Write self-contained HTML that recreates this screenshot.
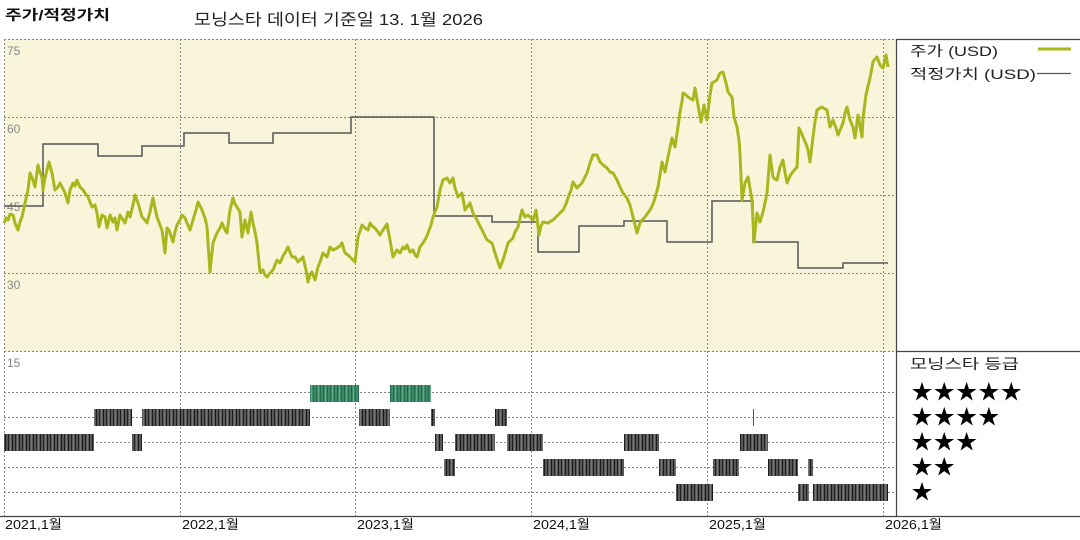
<!DOCTYPE html>
<html><head><meta charset="utf-8">
<style>
html,body{margin:0;padding:0;background:#fff;}
svg{display:block;}
text{font-family:"Liberation Sans","Noto Sans CJK KR","NanumGothic",sans-serif;}
</style></head>
<body>
<svg width="1080" height="540" viewBox="0 0 1080 540" xmlns="http://www.w3.org/2000/svg">
<defs>
<pattern id="gs" width="7" height="20" patternUnits="userSpaceOnUse">
<rect width="7" height="20" fill="#585858"/>
<rect x="1" width="1" height="20" fill="#222"/>
<rect x="3" width="1" height="20" fill="#777"/>
<rect x="5" width="1" height="20" fill="#1a1a1a"/>
</pattern>
<pattern id="gg" width="7" height="20" patternUnits="userSpaceOnUse">
<rect width="7" height="20" fill="#3f8a68"/>
<rect x="1" width="1" height="20" fill="#1f6a48"/>
<rect x="3" width="1" height="20" fill="#6aa88a"/>
<rect x="5" width="1" height="20" fill="#256e4e"/>
</pattern>
</defs>

<!-- titles -->
<text x="5" y="20" font-size="14" font-weight="bold" fill="#111" textLength="105" lengthAdjust="spacingAndGlyphs">주가/적정가치</text>
<text x="194" y="25" font-size="16" fill="#222" textLength="289" lengthAdjust="spacingAndGlyphs">모닝스타 데이터 기준일 13. 1월 2026</text>

<!-- top panel background -->
<rect x="4" y="39" width="892" height="313" fill="#f9f5da"/>

<!-- grid -->
<g stroke="#888" stroke-width="1" stroke-dasharray="2,2" fill="none">
<line x1="4" y1="39.5" x2="896" y2="39.5"/>
<line x1="4" y1="117.5" x2="896" y2="117.5"/>
<line x1="4" y1="195.5" x2="896" y2="195.5"/>
<line x1="4" y1="273.5" x2="896" y2="273.5"/>
<line x1="4" y1="351.5" x2="896" y2="351.5"/>
<line x1="4" y1="392.5" x2="896" y2="392.5"/>
<line x1="4" y1="417.5" x2="896" y2="417.5"/>
<line x1="4" y1="442.5" x2="896" y2="442.5"/>
<line x1="4" y1="467.5" x2="896" y2="467.5"/>
<line x1="4" y1="492.5" x2="896" y2="492.5"/>
<line x1="4.5" y1="39" x2="4.5" y2="516"/>
<line x1="180.5" y1="39" x2="180.5" y2="516"/>
<line x1="355.5" y1="39" x2="355.5" y2="516"/>
<line x1="531.5" y1="39" x2="531.5" y2="516"/>
<line x1="707.5" y1="39" x2="707.5" y2="516"/>
<line x1="883.5" y1="39" x2="883.5" y2="516"/>
</g>

<!-- frame lines -->
<g stroke="#444" stroke-width="1.2" fill="none">
<line x1="896" y1="39.5" x2="1080" y2="39.5"/>
<line x1="896" y1="351.5" x2="1080" y2="351.5"/>
<line x1="896.5" y1="39" x2="896.5" y2="516"/>
<line x1="0" y1="516.5" x2="1080" y2="516.5"/>
</g>

<!-- y labels -->
<g font-size="12" fill="#888">
<text x="7" y="55">75</text>
<text x="7" y="133">60</text>
<text x="7" y="211">45</text>
<text x="7" y="289">30</text>
<text x="7" y="367">15</text>
</g>

<!-- fair value step -->
<polyline fill="none" stroke="#555" stroke-width="1.5" points="4,206 43,206 43,144 98,144 98,156 142,156 142,146 184,146 184,133 229,133 229,143 273,143 273,133 351,133 351,117 434,117 434,216 492,216 492,222 538,222 538,252 579,252 579,226 624,226 624,221 667,221 667,242 712,242 712,201 753,201 753,242 798,242 798,268 843,268 843,263 888,263"/>

<!-- price -->
<polyline fill="none" stroke="#a9b71e" stroke-width="3" stroke-linejoin="round" points="4,223 6,218 8,220 10,214 13,215 15,223 18,230 20,222 22,217 25,203 28,190 30,173 33,180 35,187 38,165 40,172 42,177 43,190 45,178 47,170 49,162 52,173 55,190 58,187 60,183 62,187 65,193 68,203 70,190 73,183 75,186 77,180 80,187 83,190 85,193 88,197 92,207 95,205 97,213 99,227 102,215 105,217 107,228 110,215 113,222 115,218 117,230 120,215 123,220 125,223 128,212 130,217 133,205 135,195 138,203 140,210 142,217 145,220 147,223 150,212 153,198 155,208 157,217 160,225 162,230 165,253 167,228 169,230 173,242 175,232 177,225 180,220 182,215 185,218 187,223 190,230 193,220 196,210 198,202 202,210 205,218 207,227 210,272 213,243 215,238 217,233 220,228 222,223 225,230 227,233 230,210 233,198 235,204 237,207 240,212 242,237 245,220 248,233 251,212 253,223 255,232 257,243 260,272 263,270 265,275 267,277 270,273 273,270 275,265 277,260 280,263 283,256 285,253 288,247 290,252 292,257 295,257 298,262 300,260 303,257 306,270 308,282 310,275 312,272 315,280 318,267 320,262 323,253 327,257 330,247 333,250 337,248 340,246 342,243 345,253 348,255 350,257 355,262 358,237 362,225 365,228 368,230 370,223 373,227 375,228 378,232 380,235 383,230 387,224 390,240 393,257 397,250 400,253 403,247 405,249 407,245 410,252 413,250 415,255 417,257 420,247 423,243 426,238 428,233 431,225 433,217 437,207 440,190 443,180 447,178 450,183 453,178 455,188 458,197 462,193 465,210 468,206 470,203 473,213 477,220 480,226 482,230 485,236 487,240 492,243 495,253 498,262 500,268 503,260 506,250 508,243 513,238 515,232 518,227 522,210 525,217 528,215 530,217 533,220 536,210 539,235 541,226 543,222 548,223 551,221 553,220 558,215 563,210 566,204 568,198 571,190 573,182 577,188 582,183 587,173 590,163 593,155 597,155 600,162 603,165 607,168 610,172 613,173 617,180 620,187 623,193 627,198 630,205 633,217 637,233 640,223 642,220 645,217 650,210 653,204 655,198 658,187 660,175 662,162 665,172 668,157 672,138 675,147 678,127 680,112 682,102 683,93 686,95 688,97 693,100 695,88 698,105 701,122 704,105 707,120 710,95 712,83 717,80 720,73 723,72 726,83 728,92 732,97 734,117 737,127 739,140 740,153 742,200 745,183 748,177 752,200 754,242 757,213 760,222 763,212 765,203 767,193 770,155 773,177 775,179 777,180 780,167 783,160 785,172 787,183 790,176 792,173 797,167 799,128 801,132 803,137 806,144 808,150 810,162 813,137 815,122 817,110 820,108 822,107 825,109 827,110 830,127 833,120 836,128 838,135 843,123 845,113 847,107 850,120 853,127 855,138 858,115 862,137 863,118 866,95 868,86 870,78 873,62 875,59 877,57 880,65 883,68 886,55 888,67"/>

<!-- legend -->
<g font-size="14" fill="#222">
<text x="910" y="56" textLength="88" lengthAdjust="spacingAndGlyphs">주가 (USD)</text>
<text x="910" y="79" textLength="126" lengthAdjust="spacingAndGlyphs">적정가치 (USD)</text>
<text x="910" y="369" textLength="109" lengthAdjust="spacingAndGlyphs">모닝스타 등급</text>
</g>
<line x1="1038" y1="49" x2="1071" y2="49" stroke="#a9b71e" stroke-width="3"/>
<line x1="1037" y1="73.5" x2="1071" y2="73.5" stroke="#555" stroke-width="1.2"/>
<g font-size="21" fill="#000" font-family="DejaVu Sans, sans-serif" text-anchor="middle">
<text x="922" y="399">★</text><text x="944.3" y="399">★</text><text x="966.6" y="399">★</text><text x="988.9" y="399">★</text><text x="1011.2" y="399">★</text>
<text x="922" y="424">★</text><text x="944.3" y="424">★</text><text x="966.6" y="424">★</text><text x="988.9" y="424">★</text>
<text x="922" y="449">★</text><text x="944.3" y="449">★</text><text x="966.6" y="449">★</text>
<text x="922" y="474">★</text><text x="944.3" y="474">★</text>
<text x="922" y="499">★</text>
</g>

<!-- rating bars -->
<g fill="url(#gg)">
<rect x="310" y="385" width="49" height="17"/>
<rect x="390" y="385" width="41" height="17"/>
</g>
<g fill="url(#gs)">
<rect x="94" y="409" width="38" height="17"/>
<rect x="142" y="409" width="168" height="17"/>
<rect x="359" y="409" width="31" height="17"/>
<rect x="431" y="409" width="4" height="17"/>
<rect x="495" y="409" width="12" height="17"/>
<rect x="4" y="434" width="90" height="17"/>
<rect x="132" y="434" width="10" height="17"/>
<rect x="435" y="434" width="8" height="17"/>
<rect x="455" y="434" width="40" height="17"/>
<rect x="507" y="434" width="36" height="17"/>
<rect x="624" y="434" width="35" height="17"/>
<rect x="740" y="434" width="28" height="17"/>
<rect x="444" y="459" width="11" height="17"/>
<rect x="543" y="459" width="81" height="17"/>
<rect x="659" y="459" width="17" height="17"/>
<rect x="713" y="459" width="26" height="17"/>
<rect x="768" y="459" width="30" height="17"/>
<rect x="808" y="459" width="5" height="17"/>
<rect x="676" y="484" width="37" height="17"/>
<rect x="798" y="484" width="11" height="17"/>
<rect x="813" y="484" width="75" height="17"/>
</g>
<line x1="753.5" y1="409" x2="753.5" y2="426" stroke="#555" stroke-width="1"/>

<!-- x labels -->
<g font-size="13" fill="#111">
<text x="5" y="529" textLength="57" lengthAdjust="spacingAndGlyphs">2021,1월</text>
<text x="182" y="529" textLength="57" lengthAdjust="spacingAndGlyphs">2022,1월</text>
<text x="357" y="529" textLength="57" lengthAdjust="spacingAndGlyphs">2023,1월</text>
<text x="533" y="529" textLength="57" lengthAdjust="spacingAndGlyphs">2024,1월</text>
<text x="709" y="529" textLength="57" lengthAdjust="spacingAndGlyphs">2025,1월</text>
<text x="885" y="529" textLength="57" lengthAdjust="spacingAndGlyphs">2026,1월</text>
</g>
</svg>
</body></html>
